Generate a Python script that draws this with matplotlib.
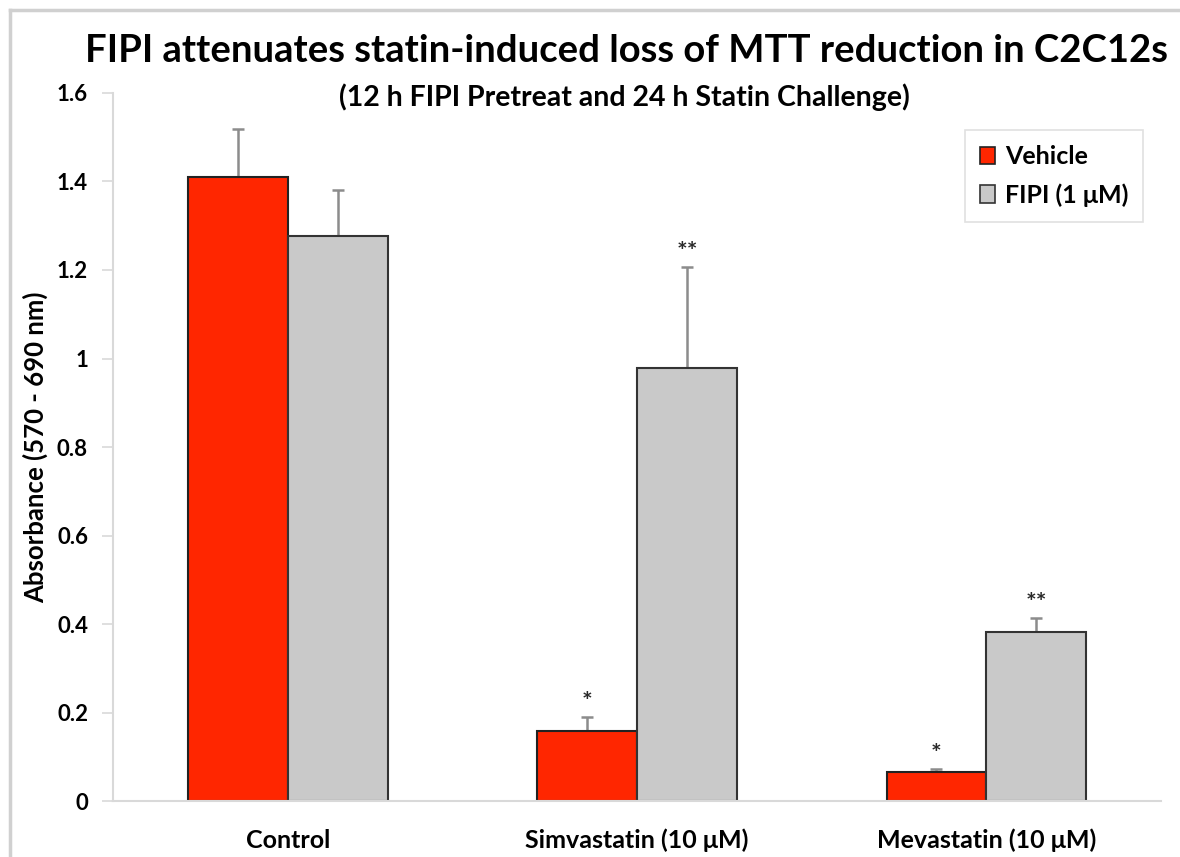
import matplotlib
matplotlib.use("Agg")
import matplotlib.pyplot as plt
from matplotlib.patches import Rectangle
from matplotlib.lines import Line2D
import numpy as np

plt.rcParams['font.family'] = ['Lato', 'DejaVu Sans']

categories = ["Control", "Simvastatin (10 μM)", "Mevastatin (10 μM)"]
vehicle = [1.41, 0.159, 0.066]
vehicle_err = [0.108, 0.032, 0.006]
fipi = [1.277, 0.979, 0.382]
fipi_err = [0.103, 0.228, 0.032]
vehicle_marks = ["", "*", "*"]
fipi_marks = ["", "**", "**"]
yticks = [0, 0.2, 0.4, 0.6, 0.8, 1, 1.2, 1.4, 1.6]
ytick_labels = ["0", "0.2", "0.4", "0.6", "0.8", "1", "1.2", "1.4", "1.6"]

red = "#ff2600"
grey = "#c9c9c9"
err_col = "#8c8c8c"

fig = plt.figure(figsize=(11.8, 8.57), dpi=100)
ax = fig.add_axes([0.0958, 0.0653, 0.8881, 0.8262])

x = np.arange(len(categories))
w = 100 / 350
ax.bar(x - w / 2, vehicle, w, color=red, edgecolor="#222222", linewidth=1.5, zorder=2)
ax.bar(x + w / 2, fipi, w, color=grey, edgecolor="#333333", linewidth=1.5, zorder=2)
ax.errorbar(x - w / 2, vehicle, yerr=[np.zeros(3), vehicle_err], fmt="none",
            ecolor=err_col, elinewidth=1.8, capsize=4, capthick=1.8, zorder=1)
ax.errorbar(x + w / 2, fipi, yerr=[np.zeros(3), fipi_err], fmt="none",
            ecolor=err_col, elinewidth=1.8, capsize=4, capthick=1.8, zorder=1)

# significance markers above the error bars
for xs, vals, errs, marks in [(x - w / 2, vehicle, vehicle_err, vehicle_marks),
                              (x + w / 2, fipi, fipi_err, fipi_marks)]:
    for xi, v, e, m in zip(xs, vals, errs, marks):
        if m:
            ax.annotate(m, (xi, v + e), xytext=(0, 2), textcoords="offset points",
                        ha="center", va="bottom", fontsize=18, fontweight="bold",
                        color="#2a2a2a")

ax.set_xlim(-0.5, 2.5)
ax.set_ylim(0, 1.6)
ax.set_yticks(yticks)
ax.set_yticklabels(ytick_labels, fontsize=16, fontweight="bold")
ax.set_xticks(x)
ax.set_xticklabels(categories, fontsize=18, fontweight="bold")
ax.tick_params(axis="x", length=0, pad=20)
ax.tick_params(axis="y", length=8, width=1.2, color="#d9d9d9", pad=10)
for s in ["top", "right"]:
    ax.spines[s].set_visible(False)
for s in ["left", "bottom"]:
    ax.spines[s].set_color("#d9d9d9")
    ax.spines[s].set_linewidth(1.5)

ax.set_ylabel("Absorbance (570 - 690 nm)", fontsize=18.5, fontweight="bold", labelpad=6)

fig.text(0.531, 0.941, "FIPI attenuates statin-induced loss of MTT reduction in C2C12s",
         ha="center", va="center", fontsize=27.5, fontweight="bold")
fig.text(0.529, 0.886, "(12 h FIPI Pretreat and 24 h Statin Challenge)",
         ha="center", va="center", fontsize=20.5, fontweight="bold")

handles = [Rectangle((0, 0), 1, 1, facecolor=red, edgecolor="#222222", linewidth=1.2),
           Rectangle((0, 0), 1, 1, facecolor=grey, edgecolor="#333333", linewidth=1.2)]
leg = ax.legend(handles, ["Vehicle", "FIPI (1 μM)"], loc="upper right",
                bbox_to_anchor=(0.995, 0.965), prop={"weight": "bold", "size": 18},
                handlelength=0.6, handleheight=0.7, handletextpad=0.4,
                labelspacing=0.6, borderpad=0.6, frameon=True, fancybox=False)
leg.get_frame().set_edgecolor("#d9d9d9")
leg.get_frame().set_linewidth(1.2)

# Thin frame around the figure (top and left edges)
fig.add_artist(Line2D([0.0085, 1.0], [0.988, 0.988], transform=fig.transFigure,
                      color="#d0d0d0", linewidth=2.5))
fig.add_artist(Line2D([0.0085, 0.0085], [0.0, 0.988], transform=fig.transFigure,
                      color="#d0d0d0", linewidth=2.5))

fig.savefig("out.png", dpi=100)
